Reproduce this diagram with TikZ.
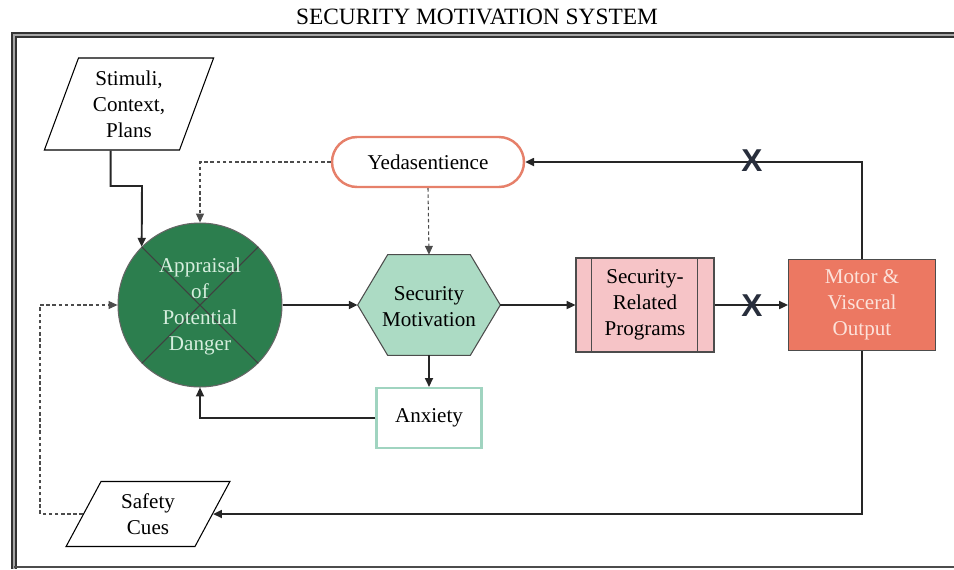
\documentclass[tikz,border=0pt]{standalone}
\usepackage{fontspec}
\setmainfont{Liberation Serif}
\newfontfamily\xfont{Liberation Sans}
\usetikzlibrary{shapes.geometric,arrows.meta,calc}

\definecolor{appgreen}{RGB}{44,126,78}
\definecolor{apptext}{RGB}{214,238,222}
\definecolor{hexgreen}{RGB}{172,219,196}
\definecolor{anxline}{RGB}{160,212,192}
\definecolor{progpink}{RGB}{246,196,199}
\definecolor{motorred}{RGB}{236,120,98}
\definecolor{motortext}{RGB}{252,226,218}
\definecolor{yedaline}{RGB}{230,128,106}
\definecolor{xmark}{RGB}{40,46,60}

\begin{document}
\begin{tikzpicture}[x=0.02cm, y=-0.02cm,
	every node/.style={font=\fontsize{12pt}{14.8pt}\selectfont, align=center},
	flow/.style={line width=1.1pt, black!85, -{Triangle[length=5pt,width=4.5pt]}},
	hint/.style={line width=0.6pt, black!70, dashed, dash pattern=on 2pt off 1.5pt, -{Triangle[length=5pt,width=4.5pt]}},
	slanted/.style={draw, trapezium, trapezium stretches=true, line width=0.6pt, inner sep=0pt},
	xmarker/.style={font=\xfont\bfseries\fontsize{18pt}{18pt}\selectfont, text=xmark, inner sep=0pt}]
	\useasboundingbox (0,0) rectangle (954,569);

	% frame and title
	\node[font=\fontsize{13.3pt}{15pt}\selectfont] (title) at (477,17) {SECURITY MOTIVATION SYSTEM};
	\draw[line width=1.4pt, black!80, double=black!35, double distance=0.8pt] (954,35) -- (14,35) -- (14,569);
	\draw[line width=1pt, black!70] (14,567) -- (954,567);

	% boxes
	\node[slanted, trapezium left angle=70, trapezium right angle=110,
		minimum width=3.4cm, minimum height=1.84cm] (stim) at (129,104) {Stimuli,\\Context,\\Plans};
	\node[draw=yedaline, line width=1.4pt, rounded corners=0.5cm,
		minimum width=3.84cm, minimum height=1cm] (yeda) at (428,162) {Yedasentience};
	\node[circle, draw=black!60, line width=0.6pt, fill=appgreen,
		minimum size=3.28cm, inner sep=0pt] (app) at (200,305) {};
	\draw[black!75, line width=0.6pt] (app.45) -- (app.225) (app.135) -- (app.-45);
	\node[text=apptext] (apptxt) at (200,306) {Appraisal\\of\\Potential\\Danger};
	\node[minimum width=2.84cm, minimum height=2cm, inner sep=0pt] (hex) at (429,305) {};
	\fill[hexgreen, draw=black!70, line width=0.6pt] (hex.west) -- ($(hex.north west)+(30,0)$) -- ($(hex.north east)+(-30,0)$)
		-- (hex.east) -- ($(hex.south east)+(-30,0)$) -- ($(hex.south west)+(30,0)$) -- cycle;
	\node (hextxt) at (429,307) {Security\\Motivation};
	\node[draw=anxline, line width=1.2pt, minimum width=2.1cm, minimum height=1.2cm] (anx) at (429,418) {Anxiety};
	\node[draw=black!70, fill=progpink, line width=0.6pt, minimum width=2.76cm, minimum height=1.88cm] (prog) at (645,305) {Security-\\Related\\Programs};
	\draw[black!70, line width=0.6pt] ($(prog.north west)+(16,0)$) -- ($(prog.south west)+(16,0)$)
		($(prog.north east)+(-17,0)$) -- ($(prog.south east)+(-17,0)$);
	\node[draw=black!70, fill=motorred, text=motortext, line width=0.6pt, minimum width=2.94cm, minimum height=1.82cm] (motor) at (862,305) {Motor \&\\Visceral\\Output};
	\node[slanted, trapezium left angle=64, trapezium right angle=116,
		minimum width=3.28cm, minimum height=1.3cm] (safe) at (148,514) {Safety\\Cues};

	% connectors
	\draw[flow] ($(stim.bottom left corner)+(67,0)$) |- (142,186) -- (app.135);
	\draw[hint] (yeda.west) -| (app.north);
	\draw[hint] (yeda.south) -- (hex.north);
	\draw[flow] (app.east) -- (hex.west);
	\draw[flow] (hex.east) -- (prog.west);
	\draw[flow] (prog.east) -- (motor.west);
	\draw[flow] (motor.north) |- (yeda.east);
	\draw[flow] (hex.south) -- (anx.north);
	\draw[flow] (anx.west) -| (app.south);
	\draw[flow] (motor.south) |- (safe.east);
	\draw[hint] (safe.west) -| (40,305) -- (app.west);

	% blocked outputs
	\node[xmarker] (xlow) at (752,306) {X};
	\node[xmarker] (xhigh) at (752,161) {X};
\end{tikzpicture}
\end{document}
